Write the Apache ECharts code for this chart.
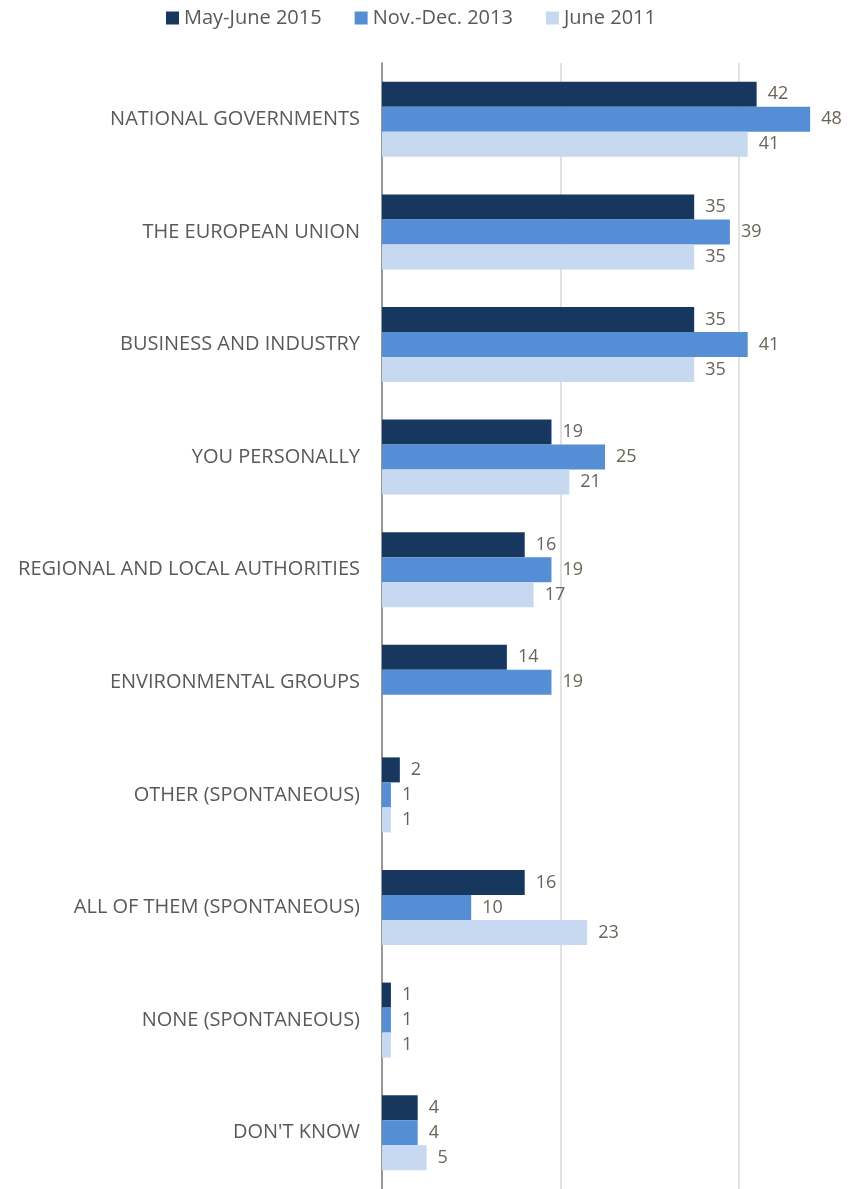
<!DOCTYPE html>
<html><head><meta charset="utf-8">
<script src="https://cdn.jsdelivr.net/npm/echarts@6/dist/echarts.min.js"></script>
<style>html,body{margin:0;padding:0;background:#fff}#c{width:848px;height:1189px}</style>
</head><body><div id="c"></div>
<script>
const categories = ["NATIONAL GOVERNMENTS","THE EUROPEAN UNION","BUSINESS AND INDUSTRY","YOU PERSONALLY","REGIONAL AND LOCAL AUTHORITIES","ENVIRONMENTAL GROUPS","OTHER (SPONTANEOUS)","ALL OF THEM (SPONTANEOUS)","NONE (SPONTANEOUS)","DON'T KNOW"];
const seriesNames = ["May-June 2015","Nov.-Dec. 2013","June 2011"];
const may2015 = [42,35,35,19,16,14,2,16,1,4];
const nov2013 = [48,39,41,25,19,19,1,10,1,4];
const jun2011 = [41,35,35,21,17,null,1,23,1,5];
const colors = ['#17375e','#558ed5','#c6d9f1'];
const font = "'Open Sans', sans-serif";
const chart = echarts.init(document.getElementById('c'));
const mk = (name, data, i) => ({
  name, type:'bar', data, barWidth:25, barGap:'0%',
  itemStyle:{color:colors[i]},
  label:{show:true, position:'right', distance:11, color:'#6b6357', fontSize:18, fontFamily:font,
    formatter:p => (p.value==null?'':p.value)},
  emphasis:{disabled:true}
});
chart.setOption({
  animation:false,
  legend:{top:3, left:161, itemWidth:13, itemHeight:13, itemGap:33, icon:'rect',
    textStyle:{color:'#595959', fontSize:20, fontFamily:font}, data:seriesNames},
  grid:{left:382, top:63, width:446, height:1127},
  xAxis:{type:'value', min:0, max:50, interval:20, axisLabel:{show:false}, axisLine:{show:false}, axisTick:{show:false},
    splitLine:{show:true, lineStyle:{color:['#d9d9d9','#d9d9d9','#d9d9d9','rgba(255,255,255,0)'], width:1.5}}},
  yAxis:{type:'category', inverse:true, data:categories,
    axisLine:{show:true, lineStyle:{color:'#7f7f7f', width:1.5}}, axisTick:{show:false},
    axisLabel:{color:'#595959', fontSize:20, fontFamily:font, margin:22}},
  series:[mk(seriesNames[0], may2015, 0), mk(seriesNames[1], nov2013, 1), mk(seriesNames[2], jun2011, 2)]
});
</script></body></html>
